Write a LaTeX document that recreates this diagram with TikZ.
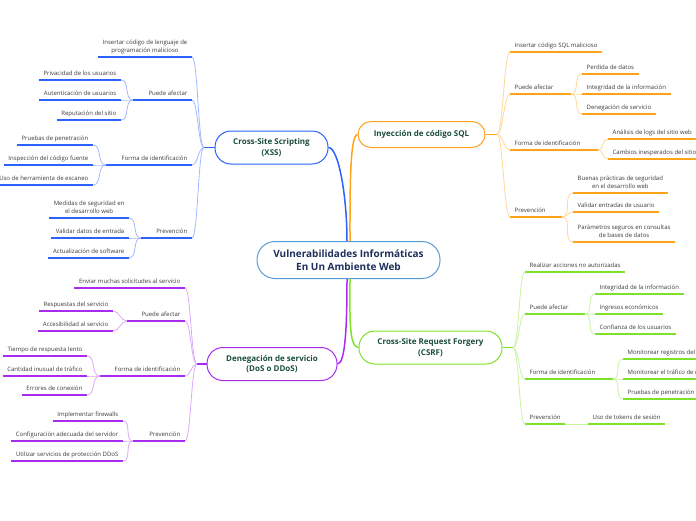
\documentclass[tikz,border=0pt]{standalone}
\usepackage{fontspec}
\setmainfont{Open Sans}
\definecolor{rootline}{HTML}{5B9BD5}
\definecolor{roottext}{HTML}{1F2F5C}
\definecolor{topictext}{HTML}{1B4D3E}
\definecolor{leafgray}{HTML}{3A3A3A}
\definecolor{xssblue}{HTML}{2962FF}
\definecolor{xsslight}{HTML}{A3B9FF}
\definecolor{sqlorange}{HTML}{FFA31A}
\definecolor{sqllight}{HTML}{FFD79A}
\definecolor{csrfgreen}{HTML}{7FE22A}
\definecolor{csrflight}{HTML}{C8F3A0}
\definecolor{dospurple}{HTML}{AA2BF0}
\definecolor{doslight}{HTML}{DDA8F8}

\begin{document}
\begin{tikzpicture}[
  x=1pt, y=-1pt,
  root/.style={draw=rootline, line width=1pt, rounded corners=18pt, fill=white, align=center,
    font=\bfseries\fontsize{10}{13.5}\selectfont, text=roottext, minimum width=183pt, minimum height=37pt},
  topic/.style={line width=1pt, rounded corners=16pt, fill=white, align=center,
    font=\bfseries\fontsize{8}{10.5}\selectfont, text=topictext, minimum height=33pt},
  leaf/.style={font=\fontsize{6}{8}\selectfont, text=leafgray, inner xsep=4.5pt, inner ysep=2.5pt,
    text depth=1.4pt, align=center},
  leafL/.style={leaf, anchor=south east},
  leafR/.style={leaf, anchor=south west},
  stem/.style={line width=1.5pt},
  limb/.style={line width=0.8pt, out distance=6pt, in distance=6pt},
  twig/.style={line width=0.8pt},
  ul/.style={line width=1.6pt}
]
  \useasboundingbox (0,0) rectangle (696,520);
  \clip (0,0) rectangle (696,520);

  \node[root] (root) at (348.5,260) {Vulnerabilidades Informáticas\\En Un Ambiente Web};
  \node[topic, draw=xssblue, minimum width=113pt] (xss) at (271.5,147.5) {Cross-Site Scripting\\(XSS)};
  \node[topic, draw=sqlorange, minimum width=127pt, minimum height=26pt, rounded corners=13pt] (sql) at (421.5,134.5) {Inyección de código SQL};
  \node[topic, draw=csrfgreen, minimum width=143pt] (csrf) at (430.5,347.5) {Cross-Site Request Forgery\\(CSRF)};
  \node[topic, draw=dospurple, minimum width=130pt] (dos) at (272,364) {Denegación de servicio\\(DoS o DDoS)};

  \draw[stem, xssblue] ([xshift=-1.5pt]root.north) to[out=90,in=0,out distance=45pt,in distance=10pt] (xss.east);
  \draw[stem, sqlorange] ([xshift=1.5pt]root.north) to[out=90,in=180,out distance=45pt,in distance=8pt] (sql.west);
  \draw[stem, dospurple] ([xshift=-1.5pt]root.south) to[out=-90,in=0,out distance=45pt,in distance=8pt] (dos.east);
  \draw[stem, csrfgreen] ([xshift=1.5pt]root.south) to[out=-90,in=180,out distance=35pt,in distance=10pt] (csrf.west);

  % XSS
  \coordinate (xssj) at (204,147.5);
  \node[leafL] (xss-ins) at (192,57) {Insertar código de lenguaje de\\programación malicioso};
  \node[leafL] (xss-pa) at (192,100) {Puede afectar};
  \node[leafL] (xss-pa1) at (121,80) {Privacidad de los usuarios};
  \node[leafL] (xss-pa2) at (121,100) {Autenticación de usuarios};
  \node[leafL] (xss-pa3) at (121,120) {Reputación del sitio};
  \node[leafL] (xss-fi) at (192,165) {Forma de identificación};
  \node[leafL] (xss-fi1) at (93,145) {Pruebas de penetración};
  \node[leafL] (xss-fi2) at (93,165) {Inspección del código fuente};
  \node[leafL] (xss-fi3) at (93,185) {Uso de herramienta de escaneo};
  \node[leafL] (xss-pr) at (192,238) {Prevención};
  \node[leafL] (xss-pr1) at (129,218) {Medidas de seguridad en\\el desarrollo web};
  \node[leafL] (xss-pr2) at (129,238) {Validar datos de entrada};
  \node[leafL] (xss-pr3) at (129,258) {Actualización de software};
  \coordinate (xss-paj) at (133,100);
  \coordinate (xss-fij) at (106,165);
  \coordinate (xss-prj) at (141,238);

  \draw[stem, xssblue] (xss.west) -- (xssj);
  \foreach \n in {xss-ins,xss-pa,xss-fi,xss-pr}
    \draw[limb, xsslight] (xssj) to[out=180,in=0] (\n.south east);
  \foreach \n in {xss-ins,xss-pa,xss-pa1,xss-pa2,xss-pa3,xss-fi,xss-fi1,xss-fi2,xss-fi3,xss-pr,xss-pr1,xss-pr2,xss-pr3}
    \draw[ul, xssblue] (\n.south west) -- (\n.south east);
  \draw[ul, xssblue] (xss-pa.south west) -- (xss-paj);
  \draw[ul, xssblue] (xss-fi.south west) -- (xss-fij);
  \draw[ul, xssblue] (xss-pr.south west) -- (xss-prj);
  \foreach \n in {xss-pa1,xss-pa2,xss-pa3}
    \draw[twig, xsslight] (xss-paj) to[out=180,in=0] (\n.south east);
  \foreach \n in {xss-fi1,xss-fi2,xss-fi3}
    \draw[twig, xsslight] (xss-fij) to[out=180,in=0] (\n.south east);
  \foreach \n in {xss-pr1,xss-pr2,xss-pr3}
    \draw[twig, xsslight] (xss-prj) to[out=180,in=0] (\n.south east);

  % SQL
  \coordinate (sqlj) at (497,134.5);
  \node[leafR] (sql-ins) at (510,52) {Insertar código SQL malicioso};
  \node[leafR] (sql-pa) at (510,94) {Puede afectar};
  \node[leafR] (sql-pa1) at (582,74) {Perdida de datos};
  \node[leafR] (sql-pa2) at (582,94) {Integridad de la información};
  \node[leafR] (sql-pa3) at (582,114) {Denegación de servicio};
  \node[leafR] (sql-fi) at (510,150) {Forma de identificación};
  \node[leafR] (sql-fi1) at (608,139) {Análisis de logs del sitio web};
  \node[leafR] (sql-fi2) at (608,159) {Cambios inesperados del sitio};
  \node[leafR] (sql-pr) at (510,217) {Prevención};
  \node[leafR] (sql-pr1) at (573,193) {Buenas prácticas de seguridad\\en el desarrollo web};
  \node[leafR] (sql-pr2) at (573,212) {Validar entradas de usuario};
  \node[leafR] (sql-pr3) at (573,242) {Parámetros seguros en consultas\\de bases de datos};
  \coordinate (sql-paj) at (571,94);
  \coordinate (sql-fij) at (598,150);
  \coordinate (sql-prj) at (562,217);

  \draw[stem, sqlorange] (sql.east) -- (sqlj);
  \foreach \n in {sql-ins,sql-pa,sql-fi,sql-pr}
    \draw[limb, sqllight] (sqlj) to[out=0,in=180] (\n.south west);
  \foreach \n in {sql-ins,sql-pa,sql-pa1,sql-pa2,sql-pa3,sql-fi,sql-fi1,sql-fi2,sql-pr,sql-pr1,sql-pr2,sql-pr3}
    \draw[ul, sqlorange] (\n.south west) -- (\n.south east);
  \draw[ul, sqlorange] (sql-pa.south east) -- (sql-paj);
  \draw[ul, sqlorange] (sql-fi.south east) -- (sql-fij);
  \draw[ul, sqlorange] (sql-pr.south east) -- (sql-prj);
  \foreach \n in {sql-pa1,sql-pa2,sql-pa3}
    \draw[twig, sqllight] (sql-paj) to[out=0,in=180] (\n.south west);
  \foreach \n in {sql-fi1,sql-fi2}
    \draw[twig, sqllight] (sql-fij) to[out=0,in=180] (\n.south west);
  \foreach \n in {sql-pr1,sql-pr2,sql-pr3}
    \draw[twig, sqllight] (sql-prj) to[out=0,in=180] (\n.south west);

  % CSRF
  \coordinate (csrfj) at (513,347.5);
  \node[leafR] (cs-ra) at (525,272) {Realizar acciones no autorizadas};
  \node[leafR] (cs-pa) at (525,314) {Puede afectar};
  \node[leafR] (cs-pa1) at (595,294) {Integridad de la información};
  \node[leafR] (cs-pa2) at (595,314) {Ingresos económicos};
  \node[leafR] (cs-pa3) at (595,334) {Confianza de los usuarios};
  \node[leafR] (cs-fi) at (525,379) {Forma de identificación};
  \node[leafR] (cs-fi1) at (623,359) {Monitorear registros del servidor};
  \node[leafR] (cs-fi2) at (623,379) {Monitorear el tráfico de red};
  \node[leafR] (cs-fi3) at (623,399) {Pruebas de penetración};
  \node[leafR] (cs-pr) at (525,424) {Prevención};
  \node[leafR] (cs-pr1) at (588,424) {Uso de tokens de sesión};
  \coordinate (cs-paj) at (585,314);
  \coordinate (cs-fij) at (613,379);

  \draw[stem, csrfgreen] (csrf.east) -- (csrfj);
  \foreach \n in {cs-ra,cs-pa,cs-fi,cs-pr}
    \draw[limb, csrflight] (csrfj) to[out=0,in=180] (\n.south west);
  \foreach \n in {cs-ra,cs-pa,cs-pa1,cs-pa2,cs-pa3,cs-fi,cs-fi1,cs-fi2,cs-fi3,cs-pr,cs-pr1}
    \draw[ul, csrfgreen] (\n.south west) -- (\n.south east);
  \draw[ul, csrfgreen] (cs-pa.south east) -- (cs-paj);
  \draw[ul, csrfgreen] (cs-fi.south east) -- (cs-fij);
  \foreach \n in {cs-pa1,cs-pa2,cs-pa3}
    \draw[twig, csrflight] (cs-paj) to[out=0,in=180] (\n.south west);
  \foreach \n in {cs-fi1,cs-fi2,cs-fi3}
    \draw[twig, csrflight] (cs-fij) to[out=0,in=180] (\n.south west);
  \draw[twig, csrflight] (cs-pr.south east) -- (cs-pr1.south west);

  % DoS
  \coordinate (dosj) at (197,364);
  \node[leafL] (dos-en) at (185,288) {Enviar muchas solicitudes al servicio};
  \node[leafL] (dos-pa) at (185,321) {Puede afectar};
  \node[leafL] (dos-pa1) at (113,311) {Respuestas del servicio};
  \node[leafL] (dos-pa2) at (113,331) {Accesibilidad al servicio};
  \node[leafL] (dos-fi) at (185,376) {Forma de identificación};
  \node[leafL] (dos-fi1) at (87,356) {Tiempo de respuesta lento};
  \node[leafL] (dos-fi2) at (87,376) {Cantidad inusual de tráfico};
  \node[leafL] (dos-fi3) at (87,395) {Errores de conexión};
  \node[leafL] (dos-pr) at (185,441) {Prevención};
  \node[leafL] (dos-pr1) at (123,421) {Implementar firewalls};
  \node[leafL] (dos-pr2) at (123,441) {Configuración adecuada del servidor};
  \node[leafL] (dos-pr3) at (123,461) {Utilizar servicios de protección DDoS};
  \coordinate (dos-paj) at (127,321);
  \coordinate (dos-fij) at (100,376);
  \coordinate (dos-prj) at (133,441);

  \draw[stem, dospurple] (dos.west) -- (dosj);
  \foreach \n in {dos-en,dos-pa,dos-fi,dos-pr}
    \draw[limb, doslight] (dosj) to[out=180,in=0] (\n.south east);
  \foreach \n in {dos-en,dos-pa,dos-pa1,dos-pa2,dos-fi,dos-fi1,dos-fi2,dos-fi3,dos-pr,dos-pr1,dos-pr2,dos-pr3}
    \draw[ul, dospurple] (\n.south west) -- (\n.south east);
  \draw[ul, dospurple] (dos-pa.south west) -- (dos-paj);
  \draw[ul, dospurple] (dos-fi.south west) -- (dos-fij);
  \draw[ul, dospurple] (dos-pr.south west) -- (dos-prj);
  \foreach \n in {dos-pa1,dos-pa2}
    \draw[twig, doslight] (dos-paj) to[out=180,in=0] (\n.south east);
  \foreach \n in {dos-fi1,dos-fi2,dos-fi3}
    \draw[twig, doslight] (dos-fij) to[out=180,in=0] (\n.south east);
  \foreach \n in {dos-pr1,dos-pr2,dos-pr3}
    \draw[twig, doslight] (dos-prj) to[out=180,in=0] (\n.south east);
\end{tikzpicture}
\end{document}
